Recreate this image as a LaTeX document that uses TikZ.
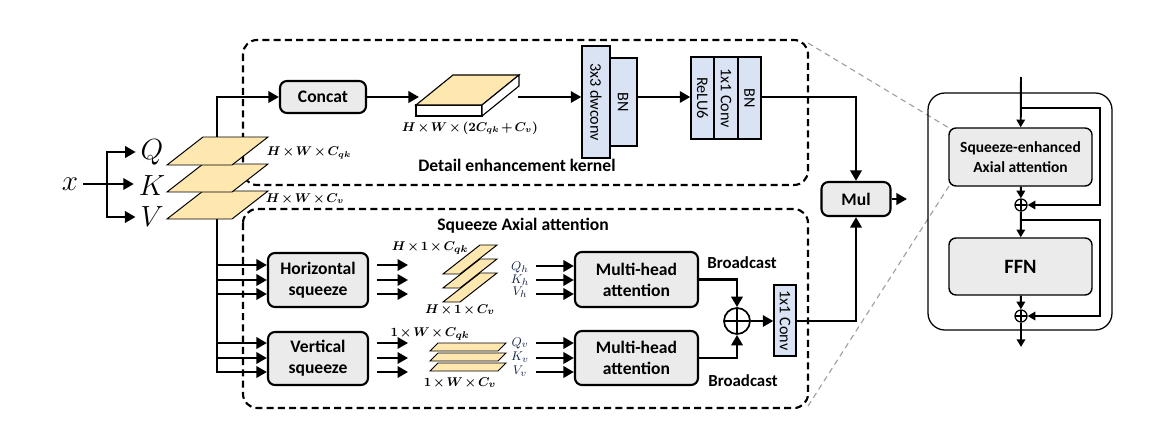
\documentclass[tikz,border=0pt]{standalone}
\usepackage[no-math]{fontspec}
\setmainfont{Carlito}
\usepackage{amsmath}
\usepackage{bm}
\usetikzlibrary{arrows.meta}
\definecolor{boxgray}{HTML}{EBEBEB}
\definecolor{layblue}{HTML}{DAE3F3}
\definecolor{planeyel}{HTML}{FFE7B0}
\definecolor{navy}{HTML}{17254A}

\begin{document}
\begin{tikzpicture}[x=0.025cm, y=-0.025cm,
        arr/.style={line width=2pt, -{Triangle[length=7.5pt,width=8pt]}},
        arrs/.style={line width=1.4pt, -{Triangle[length=5.5pt,width=6pt]}},
        blk/.style={draw, line width=1.5pt, rounded corners=5pt, fill=boxgray, align=center, inner sep=0pt,
            font=\bfseries\fontsize{12.5}{15}\selectfont},
        lay/.style={draw, line width=1pt, fill=layblue, inner sep=0pt, rotate=-90,
            font=\fontsize{11.5}{12}\selectfont},
        dbox/.style={draw, dash pattern=on 5pt off 3pt, line width=1.5pt, rounded corners=10pt},
        plane/.style={draw, line width=0.7pt, fill=planeyel},
        dims/.style={font={\fontsize{9}{10}\selectfont\medmuskip=2.5mu\thickmuskip=3mu}},
        sdims/.style={font={\fontsize{9.5}{10}\selectfont\medmuskip=2.5mu\thickmuskip=3mu}},
        qkv/.style={font=\fontsize{9.5}{10}\selectfont, text=navy, inner sep=0pt},
        big/.style={font=\fontsize{20}{22}\selectfont},
        ttl/.style={font=\bfseries\fontsize{12.5}{14}\selectfont},
        lbl/.style={font=\bfseries\fontsize{12}{14}\selectfont},
        oplus/.style={circle, draw, fill=white, inner sep=0pt,
            path picture={\draw[line width=0.9pt] (path picture bounding box.north) -- (path picture bounding box.south)
                (path picture bounding box.west) -- (path picture bounding box.east);}}]
    \useasboundingbox (0,0) rectangle (1169,433);

    \draw[dbox] (243,40) rectangle (808,185);
    \draw[dbox] (243,209) rectangle (808,408);
    \draw[gray!75, dash pattern=on 4pt off 3pt, line width=0.8pt] (808,43) -- (949,128);
    \draw[gray!75, dash pattern=on 4pt off 3pt, line width=0.8pt] (808,406) -- (949,186);

    \node (x) at (70,184) [big] {$x$};
    \node (q) at (152,152) [big] {$Q$};
    \node (k) at (152,186) [big] {$K$};
    \node (v) at (152,217) [big] {$V$};
    \coordinate (br) at (107,184);
    \draw[arr] (x) -- (x -| k.west);
    \draw[arr] (br) |- (q);
    \draw[arr] (br) |- (v);

    \node (cat) at (323,97) [blk, minimum width=2.15cm, minimum height=0.8cm] {Concat};
    \coordinate (tr) at (217,373);
    \draw[arr] (tr) |- (cat);

    \foreach \d in {54,27,0}
        \draw[plane] (167,{165+\d}) -- (232,{165+\d}) -- (268,{137+\d}) -- (203,{137+\d}) -- cycle;
    \node (dq) at (309,153) [dims] {$\bm{H\times W\times C_{qk}}$};
    \node (dv) at (305,199) [dims] {$\bm{H\times W\times C_{v}}$};

    \draw[line width=0.8pt, fill=white] (416,105) rectangle (482,116);
    \draw[line width=0.8pt, fill=planeyel] (416,105) -- (482,105) -- (519,75) -- (453,75) -- cycle;
    \draw[line width=0.8pt, fill=white] (482,105) -- (519,75) -- (519,86) -- (482,116) -- cycle;
    \coordinate (tin) at (419,97);
    \coordinate (tout) at (518,97);
    \draw[arr] (cat) -- (tin);
    \node (td) at (470,128) [dims] {$\bm{H\times W\times (2C_{qk}+C_{v})}$};

    \node (bna) at (623,102) [lay, minimum width=2.2cm, minimum height=0.7cm] {BN};
    \node (dw) at (596,102) [lay, minimum width=2.8cm, minimum height=0.7cm] {3x3 dwconv};
    \node (relu) at (702.5,98) [lay, minimum width=2.05cm, minimum height=0.575cm] {ReLU6};
    \node (cv) at (726,98) [lay, minimum width=2.05cm, minimum height=0.575cm] {1x1 Conv};
    \node (bnb) at (749.5,98) [lay, minimum width=2.05cm, minimum height=0.575cm] {BN};
    \draw[arr] (tout) -- (dw.south |- tout);
    \draw[arr] (bna.north |- tout) -- (relu.south |- tout);

    \node (dek) at (517,165) [ttl] {Detail enhancement kernel};
    \node (saa) at (523,226) [ttl] {Squeeze Axial attention};

    \node (mul) at (856,199) [blk, minimum width=1.725cm, minimum height=0.85cm] {Mul};
    \coordinate (mo) at (907,199);
    \draw[arr] (mul) -- (mo);
    \draw[arr] (bnb.north |- tout) -| (mul);

    \node (hsq) at (318,280) [blk, minimum width=2.5cm, minimum height=1.35cm] {Horizontal\\squeeze};
    \node (vsq) at (318,358.5) [blk, minimum width=2.5cm, minimum height=1.325cm] {Vertical\\squeeze};
    \foreach \y in {265,280,294} {
        \draw[arr] (tr |- 0,\y) -- (hsq.west |- 0,\y);
        \draw[arr] ([xshift=0.2cm]hsq.east |- 0,\y) -- ++(31,0);
    }
    \foreach \y in {343,358,372} {
        \draw[arr] (tr |- 0,\y) -- (vsq.west |- 0,\y);
        \draw[arr] ([xshift=0.2cm]vsq.east |- 0,\y) -- ++(31,0);
    }

    \foreach \d in {28,14,0}
        \draw[plane] (443,{274+\d}) -- (460,{274+\d}) -- (497,{245+\d}) -- (480,{245+\d}) -- cycle;
    \foreach \d in {20,10,0}
        \draw[plane] (430,{351+\d}) -- (498,{351+\d}) -- (506,{343+\d}) -- (438,{343+\d}) -- cycle;
    \node (hqk) at (430,248) [sdims] {$\bm{H\times 1\times C_{qk}}$};
    \node (hv) at (460,310) [sdims] {$\bm{H\times 1\times C_{v}}$};
    \node (wqk) at (430,334) [sdims] {$\bm{1\times W\times C_{qk}}$};
    \node (wv) at (460,383) [sdims] {$\bm{1\times W\times C_{v}}$};

    \node (qh) at (520,267) [qkv] {$Q_h$};
    \node (kh) at (520,280) [qkv] {$K_h$};
    \node (vh) at (520,292) [qkv] {$V_h$};
    \node (qv) at (520,343) [qkv] {$Q_v$};
    \node (kv) at (520,357) [qkv] {$K_v$};
    \node (vv) at (520,371) [qkv] {$V_v$};

    \node (mha1) at (636.5,279.5) [blk, minimum width=3.075cm, minimum height=1.375cm] {Multi-head\\attention};
    \node (mha2) at (636.5,358) [blk, minimum width=3.075cm, minimum height=1.35cm] {Multi-head\\attention};
    \foreach \y in {266,280,294}
        \draw[arr] ([xshift=-0.95cm]mha1.west |- 0,\y) -- (mha1.west |- 0,\y);
    \foreach \y in {343,358,372}
        \draw[arr] ([xshift=-0.95cm]mha2.west |- 0,\y) -- (mha2.west |- 0,\y);

    \node (sum) at (737,321) [oplus, line width=1.2pt, minimum size=0.65cm] {};
    \draw[arr] (mha1) -| (sum);
    \draw[arr] (mha2) -| (sum);
    \node (bc1) at (742,263) [lbl] {Broadcast};
    \node (bc2) at (743,381) [lbl] {Broadcast};
    \node (c11) at (785,320.5) [lay, minimum width=1.775cm, minimum height=0.55cm] {1x1 Conv};
    \draw[arr] (sum) -- (c11.south |- sum);
    \draw[arr] (c11.north |- sum) -| (mul);

    \draw[line width=0.9pt, rounded corners=12pt] (928,93) rectangle (1112,330);
    \node (sea) at (1020.5,157) [blk, line width=1pt, minimum width=3.575cm, minimum height=1.45cm,
        font=\bfseries\fontsize{11}{14}\selectfont] {Squeeze-enhanced\\Axial attention};
    \node (ffn) at (1020.5,266.5) [blk, line width=1pt, minimum width=3.575cm, minimum height=1.425cm,
        font=\bfseries\fontsize{14.5}{16}\selectfont] {FFN};
    \node (s1) at (1021,205) [oplus, line width=0.9pt, minimum size=0.3cm] {};
    \node (s2) at (1021,316) [oplus, line width=0.9pt, minimum size=0.3cm] {};
    \coordinate (ri) at (1021,77);
    \coordinate (b1) at (1021,108);
    \coordinate (b2) at (1021,220);
    \coordinate (ro) at (1021,347);
    \draw[arrs] (ri) -- (sea);
    \draw[arrs] (b1) -- (1100,108) |- (s1);
    \draw[arrs] (sea) -- (s1);
    \draw[arrs] (s1) -- (ffn);
    \draw[arrs] (b2) -- (1100,220) |- (s2);
    \draw[arrs] (ffn) -- (s2);
    \draw[arrs] (s2) -- (ro);
\end{tikzpicture}
\end{document}
